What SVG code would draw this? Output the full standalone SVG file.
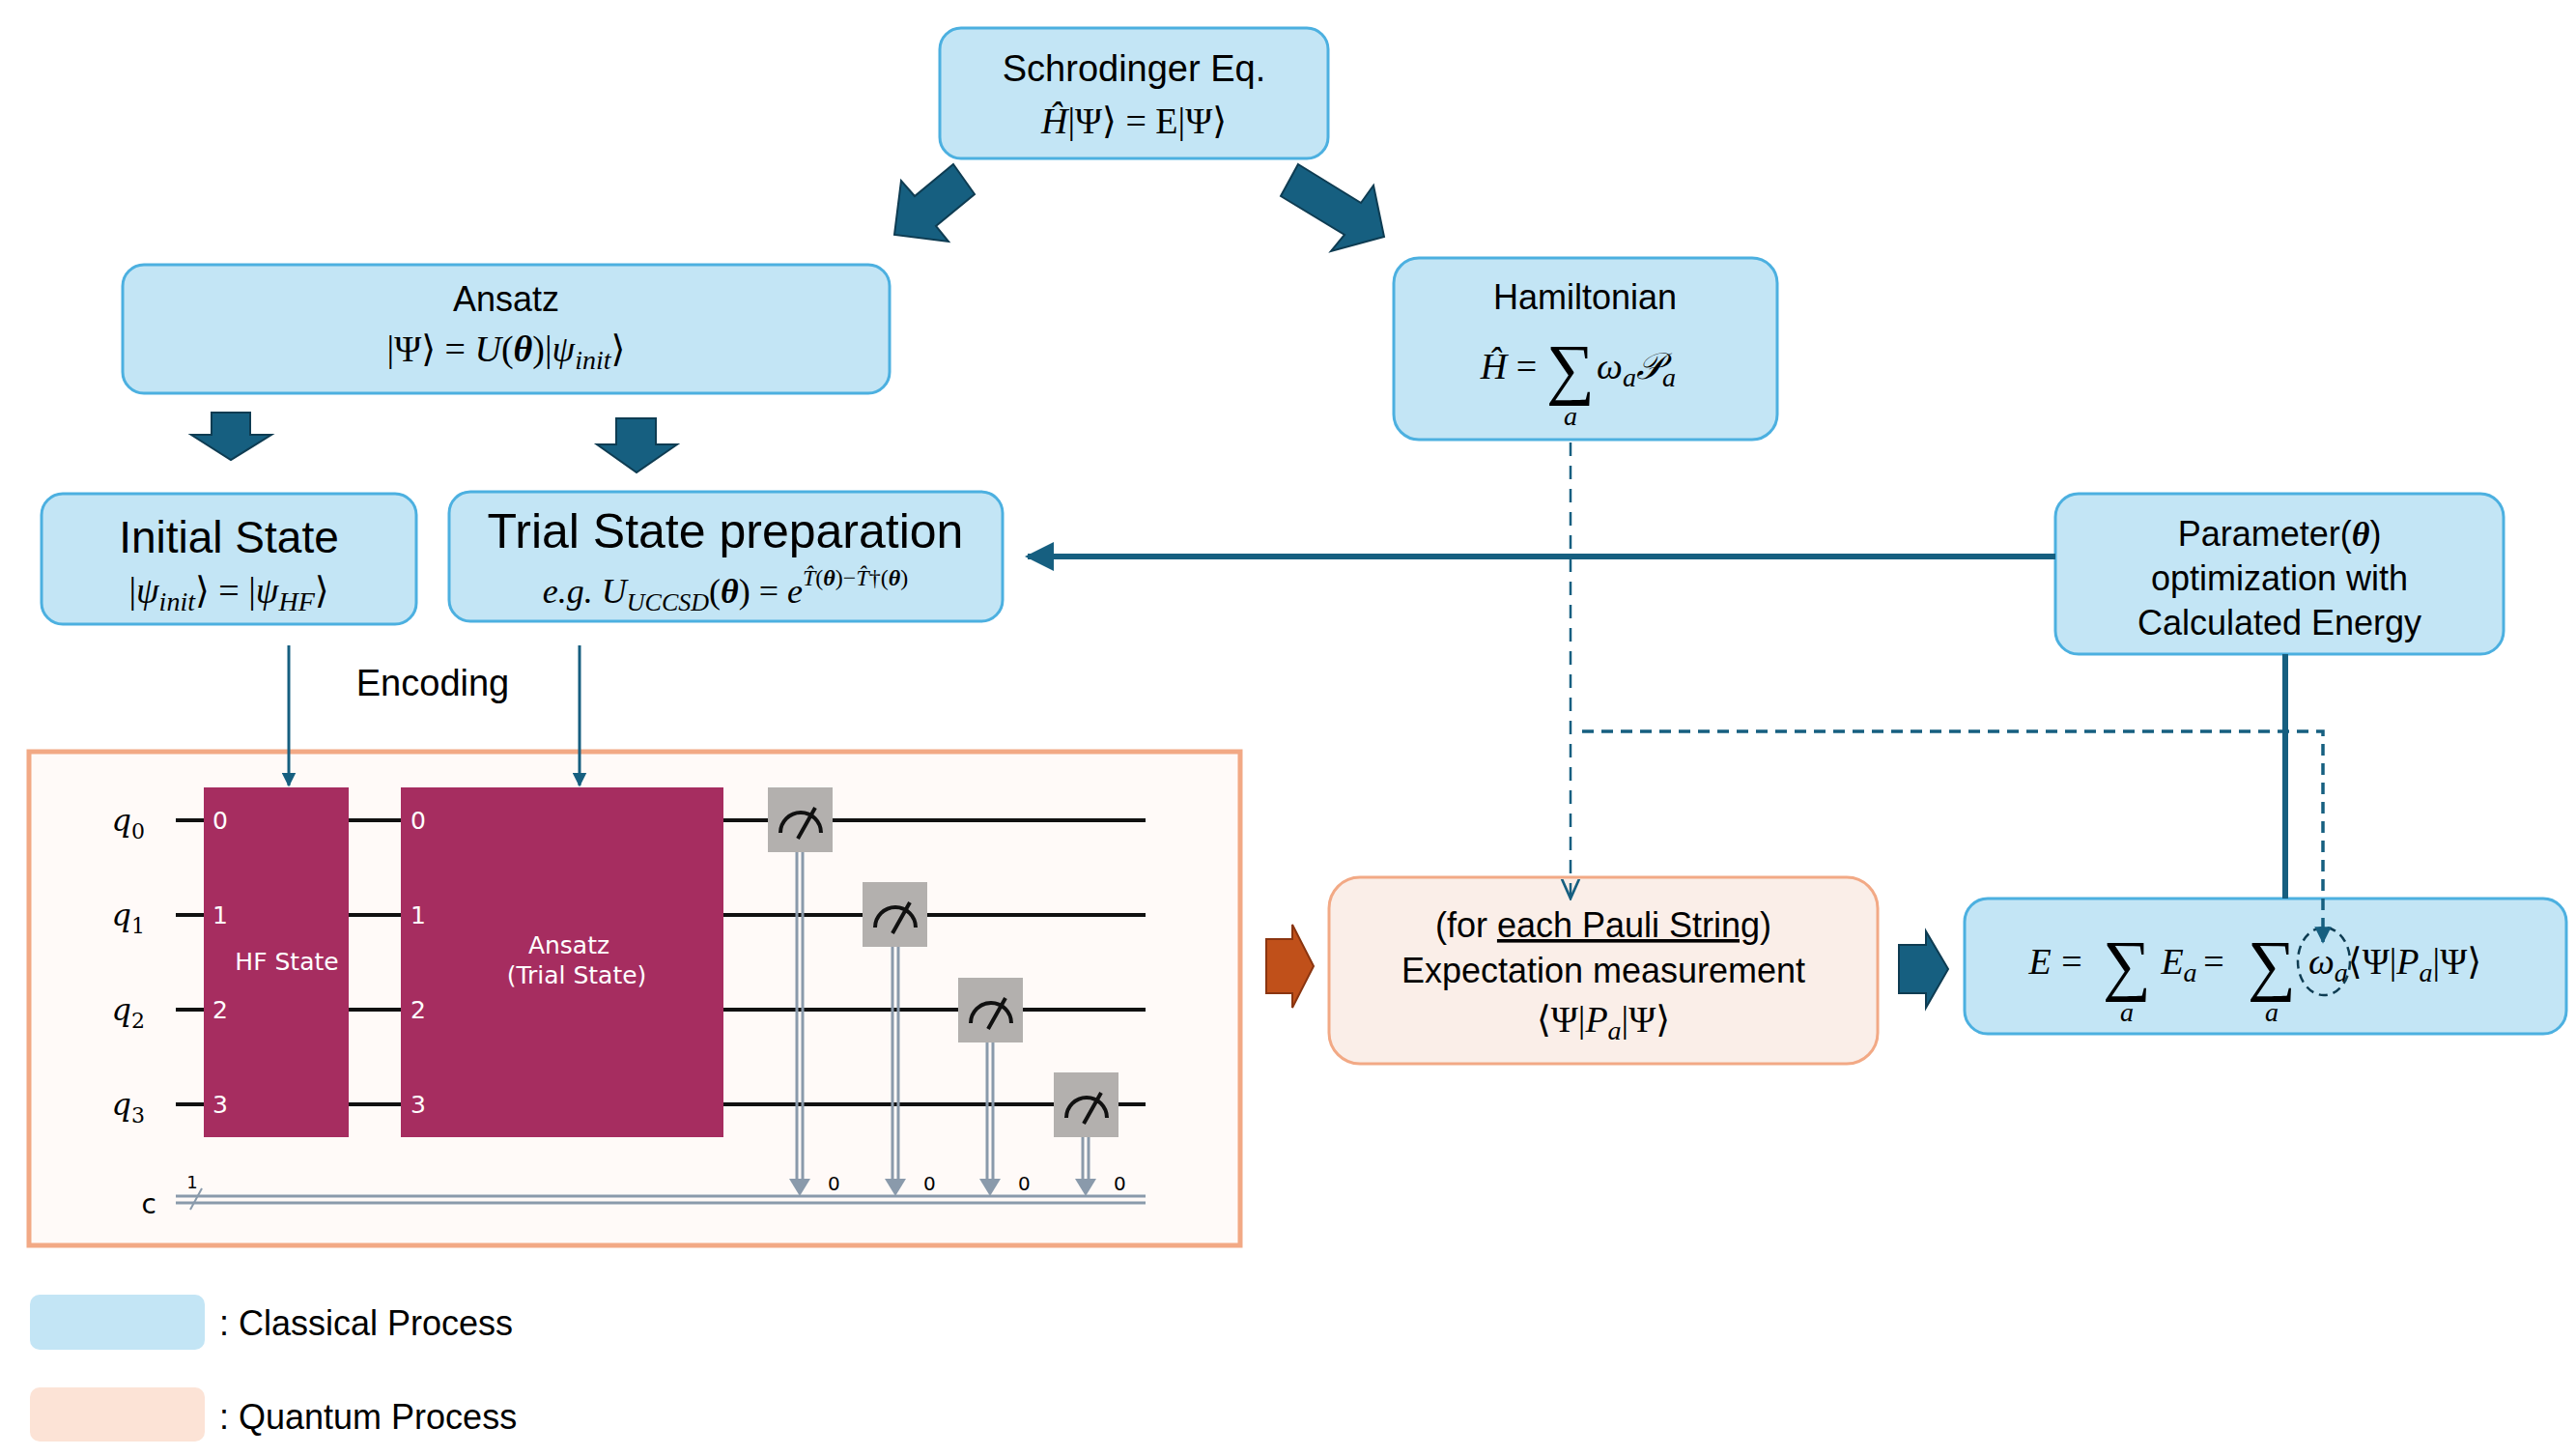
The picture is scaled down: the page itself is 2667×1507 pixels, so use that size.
<svg xmlns="http://www.w3.org/2000/svg" width="2667" height="1507" viewBox="0 0 2667 1507">
<style>
.cb{fill:#c3e5f5;stroke:#4cb0e0;stroke-width:3}
.t{font-family:"Liberation Sans",Arial,sans-serif;fill:#000;text-anchor:middle}
.m{font-family:"Liberation Serif","DejaVu Serif",serif;fill:#000;text-anchor:middle}
.i{font-style:italic}
.big{fill:#165f80;stroke:#0e3c52;stroke-width:2}
.wire{stroke:#111;stroke-width:4}
.gate{fill:#a62d60}
.gl{font-family:"DejaVu Sans",sans-serif;fill:#fff;font-size:25px}
.meas{fill:#b3b0ae}
.cw{stroke:#8a9aab;stroke-width:3;fill:none}
</style>
<defs>
<marker id="ah" viewBox="0 0 10 10" refX="9" refY="5" markerWidth="5" markerHeight="5" orient="auto"><path d="M0,0L10,5L0,10z" fill="#165f80"/></marker>
<marker id="ao" viewBox="0 0 10 10" refX="9" refY="5" markerWidth="9" markerHeight="9" orient="auto"><path d="M0,1L9,5L0,9" fill="none" stroke="#165f80" stroke-width="1.2"/></marker>
</defs>

<g id="schrodinger">
<rect class="cb" x="973" y="29" width="402" height="135" rx="22"/>
<text class="t" x="1174" y="84" font-size="38">Schrodinger Eq.</text>
<text class="m" x="1174" y="138" font-size="38"><tspan class="i">Ĥ</tspan>|Ψ⟩ = E|Ψ⟩</text>
</g>
<g id="ansatz">
<rect class="cb" x="127" y="274" width="794" height="133" rx="22"/>
<text class="t" x="524" y="322" font-size="36">Ansatz</text>
<text class="m" x="524" y="374" font-size="38">|Ψ⟩  = <tspan class="i">U</tspan>(<tspan font-weight="bold" class="i">θ</tspan>)|<tspan class="i">ψ</tspan><tspan class="i" font-size="28" dy="8">init</tspan><tspan dy="-8">⟩</tspan></text>
</g>
<g id="hamiltonian">
<rect class="cb" x="1443" y="267" width="397" height="188" rx="26"/>
<text class="t" x="1641" y="320" font-size="36">Hamiltonian</text>
<text class="m" x="1562" y="392" font-size="38"><tspan class="i">Ĥ</tspan> =</text>
<text class="m" x="1626" y="405" font-size="70">∑</text>
<text class="m i" x="1626" y="440" font-size="28">a</text>
<text class="m i" x="1694" y="392" font-size="38">ω<tspan font-size="28" dy="8">a</tspan><tspan dy="-8">𝒫</tspan><tspan font-size="28" dy="8">a</tspan></text>
</g>
<g id="initial">
<rect class="cb" x="43" y="511" width="388" height="135" rx="22"/>
<text class="t" x="237" y="572" font-size="46">Initial State</text>
<text class="m" x="237" y="624" font-size="38">|<tspan class="i">ψ</tspan><tspan class="i" font-size="28" dy="8">init</tspan><tspan dy="-8">⟩ = |</tspan><tspan class="i">ψ</tspan><tspan class="i" font-size="28" dy="8">HF</tspan><tspan dy="-8">⟩</tspan></text>
</g>
<g id="trial">
<rect class="cb" x="465" y="509" width="573" height="134" rx="22"/>
<text class="t" x="751" y="567" font-size="50">Trial State preparation</text>
<text class="m" x="751" y="624" font-size="36"><tspan class="i">e.g.</tspan> <tspan class="i">U</tspan><tspan class="i" font-size="26" dy="8">UCCSD</tspan><tspan dy="-8">(</tspan><tspan class="i" font-weight="bold">θ</tspan>) = <tspan class="i">e</tspan><tspan font-size="24" dy="-18"><tspan class="i">T̂</tspan>(<tspan class="i" font-weight="bold">θ</tspan>)−<tspan class="i">T̂</tspan>†(<tspan class="i" font-weight="bold">θ</tspan>)</tspan></text>
</g>
<g id="parameter">
<rect class="cb" x="2128" y="511" width="464" height="166" rx="24"/>
<text class="t" x="2360" y="565" font-size="36">Parameter(<tspan font-family="Liberation Serif" font-style="italic" font-weight="bold">θ</tspan>)</text>
<text class="t" x="2360" y="611" font-size="36">optimization with</text>
<text class="t" x="2360" y="657" font-size="36">Calculated Energy</text>
</g>
<text class="t" x="448" y="720" font-size="38">Encoding</text>

<g id="circuit">
<rect x="30" y="778" width="1254" height="511" fill="#fffaf8" stroke="#f2a985" stroke-width="5"/>
<line class="wire" x1="182" y1="849" x2="1186" y2="849"/>
<line class="wire" x1="182" y1="947" x2="1186" y2="947"/>
<line class="wire" x1="182" y1="1045" x2="1186" y2="1045"/>
<line class="wire" x1="182" y1="1143" x2="1186" y2="1143"/>
<line class="cw" x1="182" y1="1238" x2="1186" y2="1238"/>
<line class="cw" x1="182" y1="1245" x2="1186" y2="1245"/>
<line x1="197" y1="1252" x2="209" y2="1230" stroke="#8a9aab" stroke-width="2"/>
<text x="199" y="1230" font-family="DejaVu Sans" font-size="18" text-anchor="middle">1</text>
<g font-family="DejaVu Serif" font-style="italic" font-size="32" text-anchor="end">
<text x="150" y="860">q<tspan font-size="22" font-style="normal" dy="8">0</tspan></text>
<text x="150" y="958">q<tspan font-size="22" font-style="normal" dy="8">1</tspan></text>
<text x="150" y="1056">q<tspan font-size="22" font-style="normal" dy="8">2</tspan></text>
<text x="150" y="1154">q<tspan font-size="22" font-style="normal" dy="8">3</tspan></text>
</g>
<text x="162" y="1256" font-family="DejaVu Sans" font-size="28" text-anchor="end">c</text>
<rect class="gate" x="211" y="815" width="150" height="362"/>
<rect class="gate" x="415" y="815" width="334" height="362"/>
<g class="gl">
<text x="220" y="858">0</text><text x="220" y="956">1</text><text x="220" y="1054">2</text><text x="220" y="1152">3</text>
<text x="425" y="858">0</text><text x="425" y="956">1</text><text x="425" y="1054">2</text><text x="425" y="1152">3</text>
<text x="297" y="1004" text-anchor="middle">HF State</text>
<text x="589" y="987" text-anchor="middle">Ansatz</text>
<text x="597" y="1018" text-anchor="middle">(Trial State)</text>
</g>
<g id="meas">
<rect class="meas" x="795" y="815" width="67" height="67"/>
<rect class="meas" x="893" y="913" width="67" height="67"/>
<rect class="meas" x="992" y="1012" width="67" height="67"/>
<rect class="meas" x="1091" y="1110" width="67" height="67"/>
<g fill="none" stroke="#111" stroke-width="4">
<path d="M808,862 A21,21 0 0 1 850,862 M826,868 L844,836"/>
<path d="M906,960 A21,21 0 0 1 948,960 M924,966 L942,934"/>
<path d="M1005,1059 A21,21 0 0 1 1047,1059 M1023,1065 L1041,1033"/>
<path d="M1104,1157 A21,21 0 0 1 1146,1157 M1122,1163 L1140,1131"/>
</g>
<g class="cw" stroke-width="2.5">
<path d="M825,882V1225M831,882V1225"/>
<path d="M924,980V1225M930,980V1225"/>
<path d="M1022,1079V1225M1028,1079V1225"/>
<path d="M1121,1177V1225M1127,1177V1225"/>
</g>
<g fill="#8a9aab">
<path d="M817,1220H839L828,1238z"/><path d="M916,1220H938L927,1238z"/><path d="M1014,1220H1036L1025,1238z"/><path d="M1113,1220H1135L1124,1238z"/>
</g>
<g font-family="DejaVu Sans" font-size="20">
<text x="857" y="1232">0</text><text x="956" y="1232">0</text><text x="1054" y="1232">0</text><text x="1153" y="1232">0</text>
</g>
</g>
</g>

<g id="expectation">
<rect x="1376" y="908" width="568" height="193" rx="32" fill="#faeee8" stroke="#f2a985" stroke-width="3"/>
<text class="t" x="1660" y="970" font-size="36">(for <tspan text-decoration="underline">each Pauli String</tspan>)</text>
<text class="t" x="1660" y="1017" font-size="36">Expectation measurement</text>
<text class="m" x="1660" y="1068" font-size="38">⟨Ψ|<tspan class="i">P</tspan><tspan class="i" font-size="28" dy="8">a</tspan><tspan dy="-8">|Ψ⟩</tspan></text>
</g>
<g id="energy">
<rect class="cb" x="2034" y="930" width="623" height="140" rx="24"/>
<text class="m i" x="2112" y="1008" font-size="38">E</text>
<text class="m" x="2145" y="1008" font-size="38">=</text>
<text class="m" x="2202" y="1022" font-size="70">∑</text>
<text class="m i" x="2202" y="1057" font-size="28">a</text>
<text class="m i" x="2256" y="1008" font-size="38">E<tspan font-size="28" dy="8">a</tspan></text>
<text class="m" x="2292" y="1008" font-size="38">=</text>
<text class="m" x="2352" y="1022" font-size="70">∑</text>
<text class="m i" x="2352" y="1057" font-size="28">a</text>
<text class="m" x="2390" y="1008" font-size="38" style="text-anchor:start"><tspan class="i">ω</tspan><tspan class="i" font-size="28" dy="8">a</tspan><tspan dy="-8">⟨Ψ|</tspan><tspan class="i">P</tspan><tspan class="i" font-size="28" dy="8">a</tspan><tspan dy="-8">|Ψ⟩</tspan></text>
<ellipse cx="2406" cy="995" rx="27" ry="35" fill="none" stroke="#0e3c52" stroke-width="2.5" stroke-dasharray="9,6"/>
</g>

<g id="legend">
<rect x="31" y="1340" width="181" height="57" rx="10" fill="#c3e5f5"/>
<text x="227" y="1382" font-family="Liberation Sans,Arial,sans-serif" font-size="36">: Classical Process</text>
<rect x="31" y="1436" width="181" height="56" rx="10" fill="#fce3d6"/>
<text x="227" y="1479" font-family="Liberation Sans,Arial,sans-serif" font-size="36">: Quantum Process</text>
</g>

<g id="connectors">
<polygon class="big" points="987,170 1009,201 969,234 982,250 926,243 933,187 947,203"/>
<polygon class="big" points="1344,170 1409,210 1422,192 1433,245 1378,260 1392,243 1326,203"/>
<polygon class="big" points="219,427 259,427 259,450 281,450 239,476 198,450 219,450"/>
<polygon class="big" points="638,433 679,433 679,460 701,460 659,489 618,460 638,460"/>
<line x1="299" y1="668" x2="299" y2="813" stroke="#165f80" stroke-width="3" marker-end="url(#ah)"/>
<line x1="600" y1="668" x2="600" y2="813" stroke="#165f80" stroke-width="3" marker-end="url(#ah)"/>
<line x1="2128" y1="576" x2="1064" y2="576" stroke="#165f80" stroke-width="6" marker-end="url(#ah)"/>
<line x1="2366" y1="677" x2="2366" y2="930" stroke="#165f80" stroke-width="6"/>
<line x1="1626" y1="458" x2="1626" y2="930" stroke="#165f80" stroke-width="2.5" stroke-dasharray="14,10" marker-end="url(#ao)"/>
<polyline points="1638,757 2405,757 2405,975" fill="none" stroke="#165f80" stroke-width="3.5" stroke-dasharray="12,8" marker-end="url(#ah)"/>
<polygon points="1311,972 1338,972 1338,957 1360,1000 1338,1043 1338,1028 1311,1028" fill="#c0501a" stroke="#8a3510" stroke-width="2"/>
<polygon points="1966,978 1994,978 1994,964 2017,1003 1994,1043 1994,1028 1966,1028" class="big"/>
</g>
</svg>
